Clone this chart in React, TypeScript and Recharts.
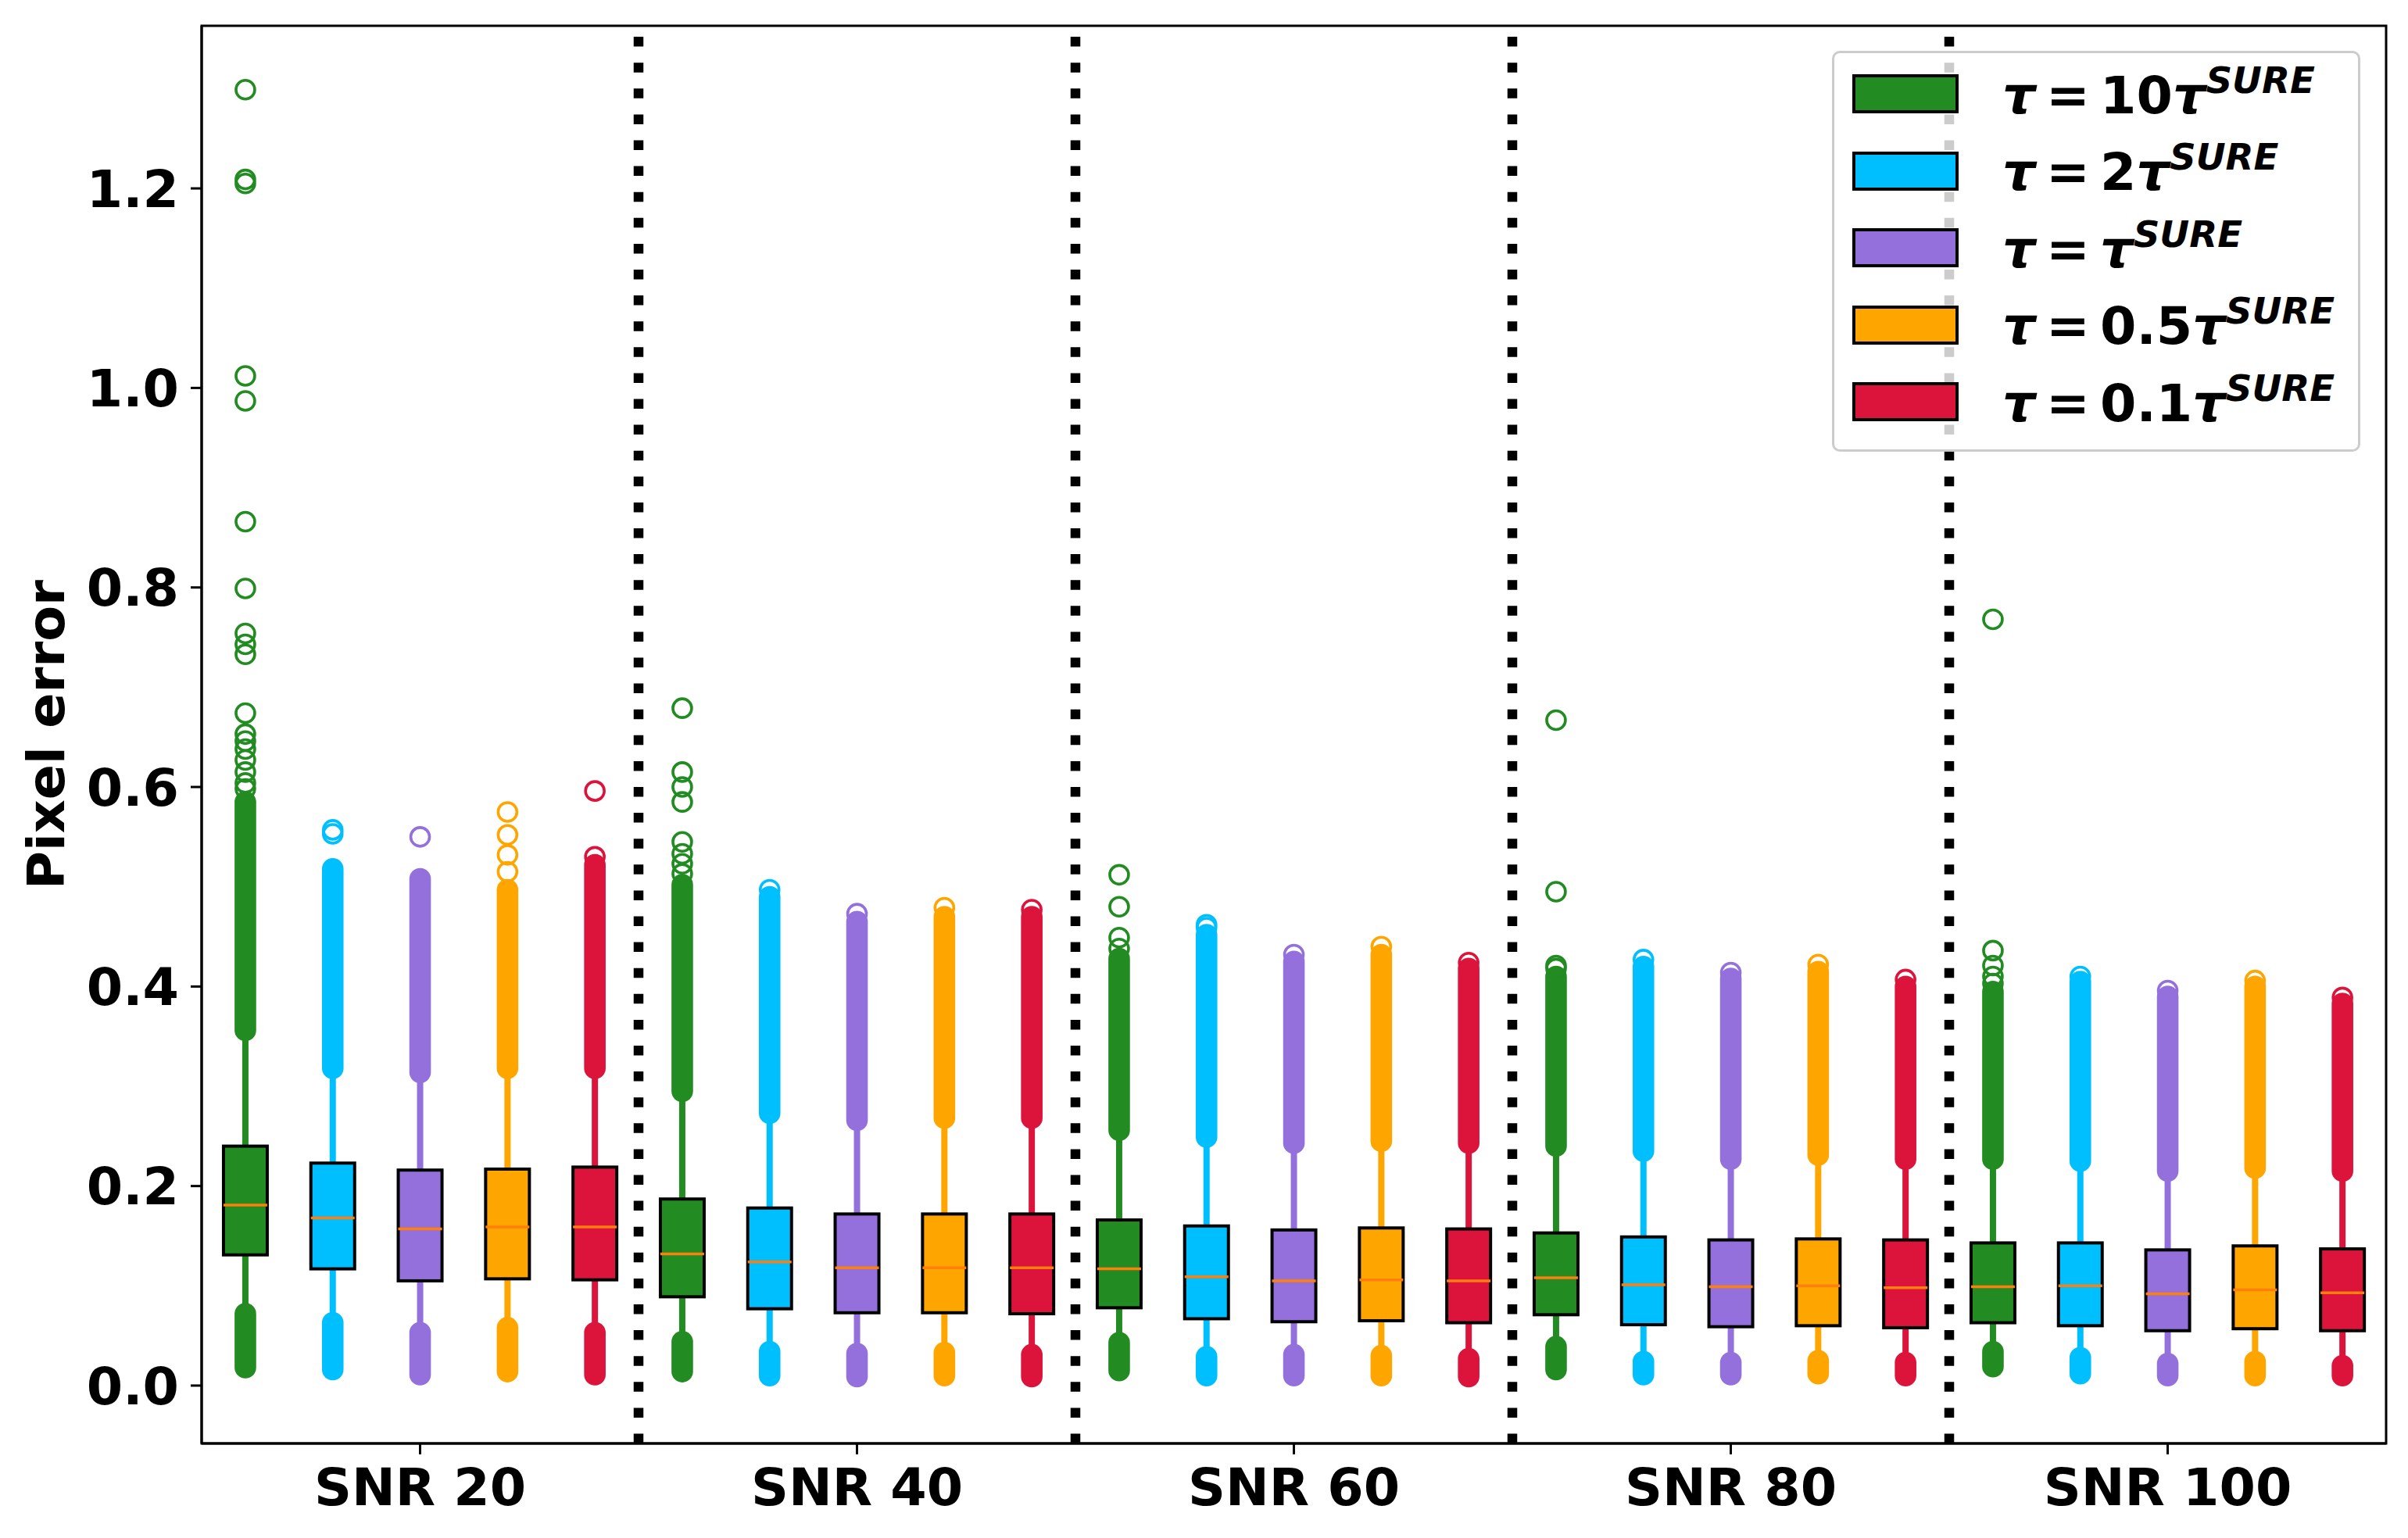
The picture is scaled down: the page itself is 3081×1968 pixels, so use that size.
import React from "react";
import {
  ComposedChart,
  Bar,
  XAxis,
  YAxis,
  ReferenceLine,
  ReferenceArea,
  Legend,
} from "recharts";

// ---------- data ----------
const groups = ["SNR 20", "SNR 40", "SNR 60", "SNR 80", "SNR 100"];
const seriesCoefs = ["10", "2", "", "0.5", "0.1"]; // tau = <coef> tau^SURE
const seriesColors = ["#228B22", "#00BFFF", "#9370DB", "#FFA500", "#DC143C"];
const yTicks = [0, 0.2, 0.4, 0.6, 0.8, 1.0, 1.2];
const yDomain = [-0.058, 1.363];

// [series][group]
const q1Values = [
  [0.131, 0.089, 0.078, 0.071, 0.063],
  [0.117, 0.077, 0.067, 0.061, 0.06],
  [0.105, 0.073, 0.064, 0.059, 0.055],
  [0.107, 0.073, 0.065, 0.06, 0.057],
  [0.106, 0.072, 0.063, 0.058, 0.055],
];
const medianValues = [
  [0.181, 0.132, 0.117, 0.108, 0.099],
  [0.168, 0.124, 0.109, 0.101, 0.1],
  [0.157, 0.118, 0.105, 0.099, 0.092],
  [0.159, 0.118, 0.106, 0.1, 0.096],
  [0.159, 0.118, 0.105, 0.098, 0.093],
];
const q3Values = [
  [0.24, 0.187, 0.166, 0.153, 0.143],
  [0.223, 0.178, 0.16, 0.149, 0.143],
  [0.216, 0.172, 0.156, 0.146, 0.136],
  [0.217, 0.172, 0.158, 0.147, 0.14],
  [0.219, 0.172, 0.157, 0.146, 0.137],
];
// dense run of low outliers [lowest, highest] (whisker ends at the highest)
const lowFlierRange = [
  [[0.018, 0.072], [0.014, 0.044], [0.015, 0.043], [0.016, 0.039], [0.019, 0.034]],
  [[0.016, 0.063], [0.01, 0.034], [0.01, 0.029], [0.011, 0.024], [0.012, 0.028]],
  [[0.011, 0.053], [0.009, 0.032], [0.01, 0.031], [0.011, 0.023], [0.01, 0.022]],
  [[0.014, 0.058], [0.01, 0.033], [0.01, 0.03], [0.012, 0.025], [0.01, 0.024]],
  [[0.011, 0.053], [0.009, 0.031], [0.009, 0.027], [0.01, 0.023], [0.01, 0.02]],
];
// dense run of high outliers [lowest, highest] (whisker ends at the lowest)
const highFlierRange = [
  [[0.356, 0.585], [0.295, 0.502], [0.256, 0.428], [0.24, 0.41], [0.227, 0.395]],
  [[0.318, 0.518], [0.273, 0.49], [0.249, 0.452], [0.235, 0.42], [0.225, 0.405]],
  [[0.314, 0.508], [0.266, 0.465], [0.243, 0.425], [0.227, 0.408], [0.215, 0.39]],
  [[0.318, 0.497], [0.268, 0.47], [0.245, 0.432], [0.231, 0.415], [0.218, 0.4]],
  [[0.318, 0.522], [0.268, 0.47], [0.243, 0.418], [0.227, 0.4], [0.215, 0.383]],
];
// isolated outliers above the dense run
const sparseFliers = [
  [
    [0.598, 0.604, 0.615, 0.627, 0.638, 0.646, 0.653, 0.674, 0.733, 0.743, 0.754, 0.799, 0.866, 0.987, 1.012, 1.205, 1.209, 1.299],
    [0.513, 0.523, 0.533, 0.545, 0.585, 0.6, 0.615, 0.679],
    [0.438, 0.449, 0.48, 0.512],
    [0.418, 0.421, 0.495, 0.667],
    [0.403, 0.41, 0.421, 0.436, 0.768],
  ],
  [[0.553, 0.557], [0.497], [0.459, 0.462], [0.427], [0.41]],
  [[0.55], [0.473], [0.432], [0.414], [0.396]],
  [[0.515, 0.532, 0.552, 0.575], [0.479], [0.44], [0.422], [0.406]],
  [[0.53, 0.596], [0.477], [0.424], [0.407], [0.389]],
];

// table for the library
const boxData = groups.flatMap((g, gi) =>
  seriesColors.map((_, si) => ({
    key: `${g}|${si}`,
    series: si,
    q1: q1Values[si][gi],
    median: medianValues[si][gi],
    q3: q3Values[si][gi],
    low: lowFlierRange[si][gi],
    high: highFlierRange[si][gi],
    sparse: sparseFliers[si][gi],
  }))
);
const groupTicks = groups.map((g) => `${g}|2`);
const groupEnds = groups.slice(0, -1).map((g) => `${g}|4`);
const firstKey = boxData[0].key;
const lastKey = boxData[boxData.length - 1].key;

// ---------- styling ----------
const FONT = "'DejaVu Sans', 'Liberation Sans', sans-serif";
const FS = 66.7;
const MEDIAN_COLOR = "#ff7f0e";
const MARKER_R = 12;
const MARKER_SW = 3.6;

function BoxShape(props: any) {
  const { x, y, width, height, payload } = props;
  const d = payload;
  if (!d) return null;
  const top = Math.min(y, y + height);
  const h = Math.abs(height);
  const k = h / (d.q3 - d.q1);
  const py = (v: number) => top + (d.q3 - v) * k;
  const cx = x + width / 2;
  const color = seriesColors[d.series];
  const outer = MARKER_R + MARKER_SW / 2;
  const band = (lo: number, hi: number) => (
    <rect
      x={cx - outer}
      y={py(hi) - outer}
      width={outer * 2}
      height={py(lo) - py(hi) + outer * 2}
      rx={outer}
      ry={outer}
      fill={color}
    />
  );
  return (
    <g>
      <line x1={cx} x2={cx} y1={py(d.q3)} y2={py(d.high[0])} stroke={color} strokeWidth={8} />
      <line x1={cx} x2={cx} y1={py(d.q1)} y2={py(d.low[1])} stroke={color} strokeWidth={8} />
      {band(d.high[0], d.high[1])}
      {band(d.low[0], d.low[1])}
      {d.sparse.map((v: number, i: number) => (
        <circle key={i} cx={cx} cy={py(v)} r={MARKER_R} fill="none" stroke={color} strokeWidth={MARKER_SW} />
      ))}
      <rect x={x} y={top} width={width} height={h} fill={color} stroke="#000" strokeWidth={4} />
      <line x1={x} x2={x + width} y1={py(d.median)} y2={py(d.median)} stroke={MEDIAN_COLOR} strokeWidth={3.5} />
    </g>
  );
}

function LegendBox() {
  return (
    <div
      style={{
        boxSizing: "border-box",
        width: 676,
        height: 513,
        border: "3px solid #cccccc",
        borderRadius: 10,
        background: "rgba(255,255,255,0.8)",
        position: "relative",
        fontFamily: FONT,
        fontWeight: "bold",
        color: "#000",
      }}
    >
      {seriesCoefs.map((c, i) => (
        <div key={i} style={{ position: "absolute", left: 0, top: i * 98.6, width: "100%", height: 98.6 }}>
          <div
            style={{
              position: "absolute",
              left: 23,
              top: 27,
              width: 136,
              height: 50,
              boxSizing: "border-box",
              border: "4px solid #000",
              background: seriesColors[i],
            }}
          />
          <div
            style={{
              position: "absolute",
              left: 215,
              top: 77 - 0.846 * FS,
              fontSize: FS,
              lineHeight: 1,
              whiteSpace: "nowrap",
            }}
          >
            <span style={{ fontStyle: "italic" }}>τ</span>
            {"\u2009=\u2009"}
            {c}
            <span style={{ fontStyle: "italic" }}>τ</span>
            <span
              style={{
                fontStyle: "italic",
                fontSize: "0.7em",
                verticalAlign: "0.56em",
                lineHeight: 0,
              }}
            >
              SURE
            </span>
          </div>
        </div>
      ))}
    </div>
  );
}

export default function App() {
  const tickStyle = { fontFamily: FONT, fontWeight: "bold", fontSize: FS, fill: "#000" };
  return (
    <div style={{ position: "fixed", left: 0, top: 0, background: "#fff" }}>
      <ComposedChart
        width={3081}
        height={1968}
        data={boxData}
        margin={{ top: 33, right: 28, left: 0, bottom: 0 }}
        barCategoryGap="25%"
      >
        <XAxis
          dataKey="key"
          type="category"
          ticks={groupTicks}
          interval={0}
          tickFormatter={(v: string) => String(v).split("|")[0]}
          height={121}
          tick={tickStyle}
          tickSize={14}
          tickMargin={18}
          tickLine={{ stroke: "#000", strokeWidth: 3 }}
          axisLine={{ stroke: "#000", strokeWidth: 3 }}
        />
        <YAxis
          type="number"
          domain={yDomain}
          ticks={yTicks}
          interval={0}
          tickFormatter={(v: number) => v.toFixed(1)}
          width={258}
          tick={tickStyle}
          tickSize={14}
          tickMargin={15}
          tickLine={{ stroke: "#000", strokeWidth: 3 }}
          axisLine={{ stroke: "#000", strokeWidth: 3 }}
          label={{
            content: (p: any) => {
              const vb = p.viewBox || {};
              const lx = (vb.x || 0) + 59;
              const ly = (vb.y || 0) + (vb.height || 0) / 2;
              return (
                <text
                  x={lx}
                  y={ly}
                  transform={`rotate(-90 ${lx} ${ly})`}
                  textAnchor="middle"
                  dominantBaseline="central"
                  fontFamily={FONT}
                  fontWeight="bold"
                  fontSize={FS}
                  fill="#000"
                >
                  Pixel error
                </text>
              );
            },
          }}
        />
        <Bar dataKey={(d: any) => [d.q1, d.q3]} shape={<BoxShape />} isAnimationActive={false} />
        {groupEnds.map((k) => (
          <ReferenceLine
            key={k}
            x={k}
            position="end"
            stroke="#000"
            strokeWidth={12.5}
            strokeDasharray="12.5 20.6"
            ifOverflow="extendDomain"
          />
        ))}
        <ReferenceArea
          x1={firstKey}
          x2={lastKey}
          y1={yDomain[0]}
          y2={yDomain[1]}
          fill="none"
          fillOpacity={0}
          stroke="#000"
          strokeWidth={3}
          ifOverflow="visible"
        />
        <Legend
          layout="vertical"
          align="center"
          verticalAlign="middle"
          wrapperStyle={{ left: 2344, top: 65, width: "auto", height: "auto" }}
          content={() => <LegendBox />}
        />
      </ComposedChart>
    </div>
  );
}
